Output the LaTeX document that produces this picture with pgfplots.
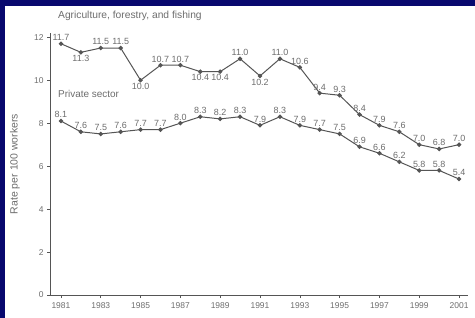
\documentclass[border=0pt]{standalone}
\usepackage{pgfplots}
\usepackage{pgfplotstable}
\pgfplotsset{compat=1.18}
\usepackage{fontspec}
\setmainfont{Liberation Sans}
\definecolor{bgblue}{RGB}{8,8,110}
\definecolor{txt}{RGB}{110,110,110}
\definecolor{ln}{RGB}{85,85,85}
\pgfplotstableread{
x y lab
1981 11.7 11.7
1982 11.3 11.3
1983 11.5 11.5
1984 11.5 11.5
1985 10.0 10.0
1986 10.7 10.7
1987 10.7 10.7
1988 10.4 10.4
1989 10.4 10.4
1990 11.0 11.0
1991 10.2 10.2
1992 11.0 11.0
1993 10.6 10.6
1994 9.4 9.4
1995 9.3 9.3
1996 8.4 8.4
1997 7.9 7.9
1998 7.6 7.6
1999 7.0 7.0
2000 6.8 6.8
2001 7.0 7.0
}\agri
\pgfplotstableread{
x y lab
1982 11.3 11.3
1985 10.0 10.0
1988 10.4 10.4
1989 10.4 10.4
1991 10.2 10.2
}\agribelow
\pgfplotstableread{
x y lab
1981 11.7 11.7
1983 11.5 11.5
1984 11.5 11.5
1986 10.7 10.7
1987 10.7 10.7
1990 11.0 11.0
1992 11.0 11.0
1993 10.6 10.6
1994 9.4 9.4
1995 9.3 9.3
1996 8.4 8.4
1997 7.9 7.9
1998 7.6 7.6
1999 7.0 7.0
2000 6.8 6.8
2001 7.0 7.0
}\agriabove
\pgfplotstableread{
x y lab
1981 8.1 8.1
1982 7.6 7.6
1983 7.5 7.5
1984 7.6 7.6
1985 7.7 7.7
1986 7.7 7.7
1987 8.0 8.0
1988 8.3 8.3
1989 8.2 8.2
1990 8.3 8.3
1991 7.9 7.9
1992 8.3 8.3
1993 7.9 7.9
1994 7.7 7.7
1995 7.5 7.5
1996 6.9 6.9
1997 6.6 6.6
1998 6.2 6.2
1999 5.8 5.8
2000 5.8 5.8
2001 5.4 5.4
}\priv
\begin{document}
\begin{tikzpicture}
\fill[bgblue] (0bp,0bp) rectangle (475bp,318bp);
\fill[white] (5bp,0bp) rectangle (475bp,312bp);
\begin{axis}[
  at={(50bp,23bp)}, anchor=south west,
  scale only axis, width=418bp, height=262bp,
  xmin=1980.45, xmax=2001.45, ymin=0, ymax=12.2,
  axis lines=left,
  axis line style={-, ln, line width=0.7pt},
  xtick={1981,1983,...,2001},
  ytick={0,2,...,12},
  tick align=outside,
  major tick length=3bp,
  tick style={ln, line width=0.6pt},
  x tick label style={/pgf/number format/1000 sep={}, yshift=-1bp},
  tick label style={font=\fontsize{8.5}{10}\selectfont, color=txt},
  /pgf/number format/assume math mode=true,
  ylabel={Rate per 100 workers},
  every axis y label/.style={at={(axis description cs:-0.084,0.5)}, rotate=90, anchor=center, font=\fontsize{10.5}{12}\selectfont, color=txt},
  clip=false,
  labs/.style={draw=none, mark=none, nodes near coords, point meta=explicit symbolic,
    every node near coord/.append style={anchor=#1, font=\fontsize{9}{10}\selectfont, color=txt, inner sep=2.8bp}},
]
\addplot[ln, line width=1pt, mark=*, mark size=1.7pt, mark options={fill=ln}] table[x=x, y=y] {\agri};
\addplot[ln, line width=1pt, mark=*, mark size=1.7pt, mark options={fill=ln}] table[x=x, y=y] {\priv};
\addplot[labs=south] table[x=x, y=y, meta=lab] {\agriabove};
\addplot[labs=north] table[x=x, y=y, meta=lab] {\agribelow};
\addplot[labs=south] table[x=x, y=y, meta=lab] {\priv};
\node[anchor=west, font=\fontsize{10.3}{12}\selectfont, color=txt, inner sep=0pt] at (axis cs:1980.85,13.0) {Agriculture, forestry, and fishing};
\node[anchor=west, font=\fontsize{10}{12}\selectfont, color=txt, inner sep=0pt] at (axis cs:1980.85,9.35) {Private sector};
\end{axis}
\end{tikzpicture}
\end{document}
